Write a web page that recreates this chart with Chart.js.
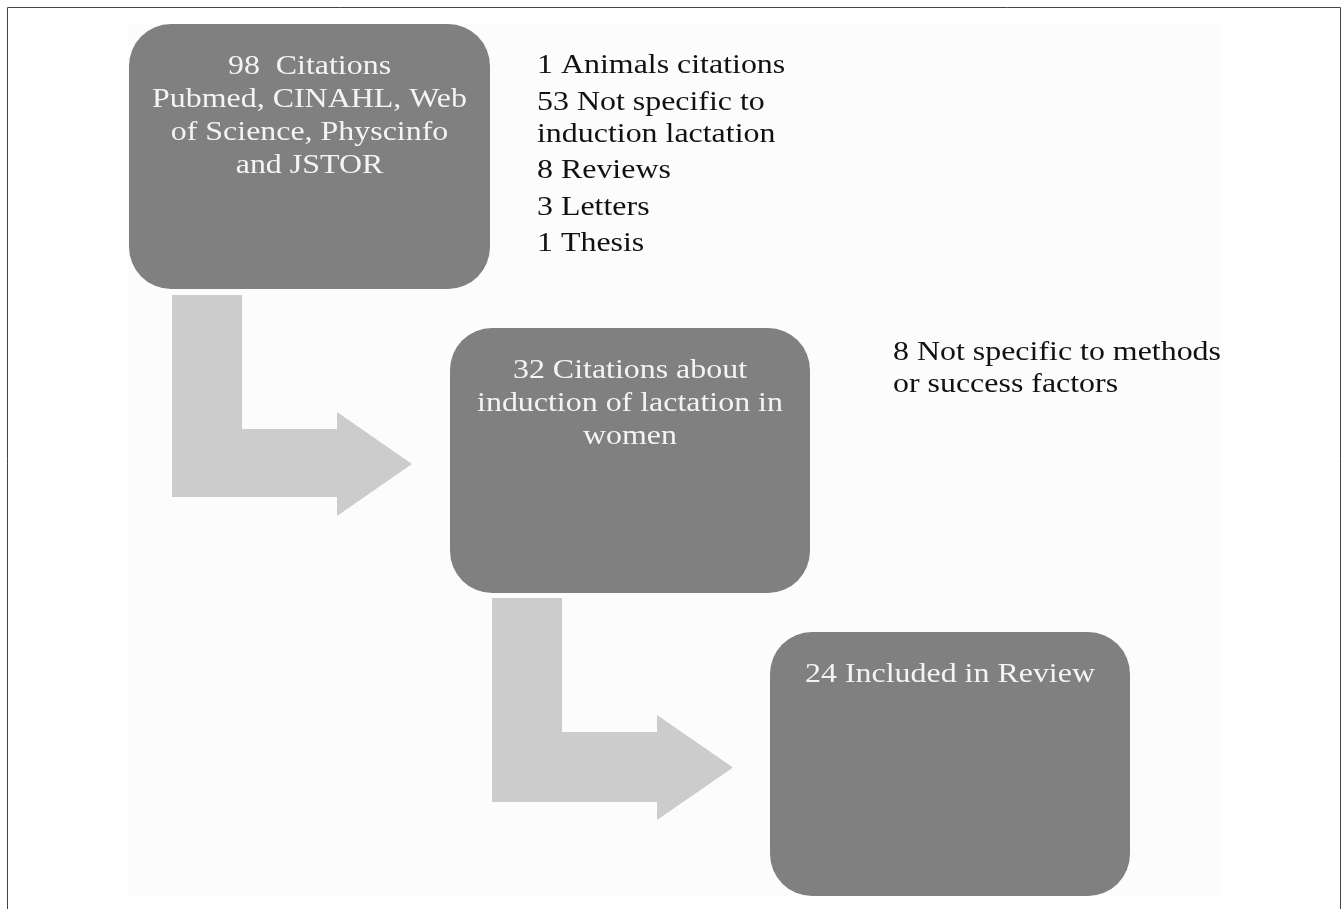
<!DOCTYPE html>
<html>
<head>
<meta charset="utf-8">
<script src="https://cdn.jsdelivr.net/npm/chart.js@4"></script>
<style>
    html, body { margin: 0; padding: 0; background: #ffffff; }
    #wrap { position: relative; width: 1341px; height: 909px; }
</style>
</head>
<body>
<div id="wrap"><canvas id="flow" width="1341" height="909"></canvas></div>
<script>
// Flow stages (text inside the dark boxes)
const stageLabels = [
    ['98  Citations', 'Pubmed, CINAHL, Web', 'of Science, Physcinfo', 'and JSTOR'],
    ['32 Citations about', 'induction of lactation in', 'women'],
    ['24 Included in Review'],
];
const stageCounts = [98, 32, 24];

// Exclusion notes next to each stage (each item may wrap on several lines)
const exclusionNotes = [
    [['1 Animals citations'], ['53 Not specific to', 'induction lactation'], ['8 Reviews'], ['3 Letters'], ['1 Thesis']],
    [['8 Not specific to methods', 'or success factors']],
    [],
];

// Layout in page units (x: 0..1341, y: 0..909, y down)
const boxLayout = [
    { x0: 129, y0: 24, x1: 490, y1: 289 },
    { x0: 450, y0: 328, x1: 810, y1: 593 },
    { x0: 770, y0: 632, x1: 1130, y1: 896 },
];
const noteLayout = [
    { x: 537, y: 66 },
    { x: 893, y: 353 },
    { x: 0, y: 0 },
];
const arrowLayout = [
    { x0: 172, x1: 242, top: 295, barTop: 429, barBot: 497, headX: 337, tipX: 412, headTop: 412, headBot: 516 },
    { x0: 492, x1: 562, top: 598, barTop: 732, barBot: 802, headX: 657, tipX: 733, headTop: 715, headBot: 820 },
];

const FONT = '"Liberation Serif", "DejaVu Serif", serif';
const TEXT_STRETCH = 1.14; // the source picture is stretched horizontally

function stretchedText(ctx, text, x, y, align) {
    ctx.save();
    ctx.translate(x, y);
    ctx.scale(TEXT_STRETCH, 1);
    ctx.textAlign = align;
    ctx.textBaseline = 'middle';
    ctx.fillText(text, 0, 0);
    ctx.restore();
}

const flowPlugin = {
    id: 'flowPlugin',
    beforeDatasetsDraw(chart) {
        const ctx = chart.ctx;
        const sx = chart.scales.x;
        const sy = chart.scales.y;
        const px = (v) => sx.getPixelForValue(v);
        const py = (v) => sy.getPixelForValue(v);

        ctx.save();
        // faint panel
        ctx.fillStyle = '#fcfcfc';
        ctx.fillRect(px(128), py(23), px(1220) - px(128), py(897) - py(23));

        // frame lines
        ctx.strokeStyle = '#444444';
        ctx.lineWidth = 1;
        ctx.beginPath();
        ctx.moveTo(px(7.5), py(909));
        ctx.lineTo(px(7.5), py(7.5));
        ctx.lineTo(px(1340.5), py(7.5));
        ctx.lineTo(px(1340.5), py(909));
        ctx.stroke();

        // elbow arrows
        ctx.fillStyle = '#cccccc';
        arrowLayout.forEach((a) => {
            ctx.beginPath();
            ctx.moveTo(px(a.x0), py(a.top));
            ctx.lineTo(px(a.x1), py(a.top));
            ctx.lineTo(px(a.x1), py(a.barTop));
            ctx.lineTo(px(a.headX), py(a.barTop));
            ctx.lineTo(px(a.headX), py(a.headTop));
            ctx.lineTo(px(a.tipX), py((a.headTop + a.headBot) / 2));
            ctx.lineTo(px(a.headX), py(a.headBot));
            ctx.lineTo(px(a.headX), py(a.barBot));
            ctx.lineTo(px(a.x0), py(a.barBot));
            ctx.closePath();
            ctx.fill();
        });

        // stage boxes
        ctx.font = '28px ' + FONT;
        stageLabels.forEach((lines, i) => {
            const b = boxLayout[i];
            ctx.fillStyle = '#808080';
            ctx.beginPath();
            ctx.roundRect(px(b.x0), py(b.y0), px(b.x1) - px(b.x0), py(b.y1) - py(b.y0), 42);
            ctx.fill();

            ctx.fillStyle = '#f4f4f4';
            const cx = (b.x0 + b.x1) / 2;
            lines.forEach((t, j) => {
                stretchedText(ctx, t, px(cx), py(b.y0 + 43 + j * 33), 'center');
            });
        });

        // exclusion notes
        ctx.fillStyle = '#111111';
        exclusionNotes.forEach((items, i) => {
            let y = noteLayout[i].y;
            items.forEach((item) => {
                item.forEach((t, j) => {
                    stretchedText(ctx, t, px(noteLayout[i].x), py(y), 'left');
                    y += j < item.length - 1 ? 32 : 0;
                });
                y += 36.5;
            });
        });
        ctx.restore();
    },
};

const ctx = document.getElementById('flow').getContext('2d');
new Chart(ctx, {
    type: 'scatter',
    data: {
        datasets: [
            {
                label: 'Citations',
                data: stageCounts.map((c, i) => ({ x: (boxLayout[i].x0 + boxLayout[i].x1) / 2, y: boxLayout[i].y1, n: c })),
                pointRadius: 0,
            },
        ],
    },
    options: {
        responsive: false,
        animation: false,
        layout: { padding: 0 },
        scales: {
            x: { type: 'linear', min: 0, max: 1341, display: false },
            y: { type: 'linear', min: 0, max: 909, reverse: true, display: false },
        },
        plugins: {
            legend: { display: false },
            tooltip: { enabled: false },
        },
    },
    plugins: [flowPlugin],
});
</script>
</body>
</html>
